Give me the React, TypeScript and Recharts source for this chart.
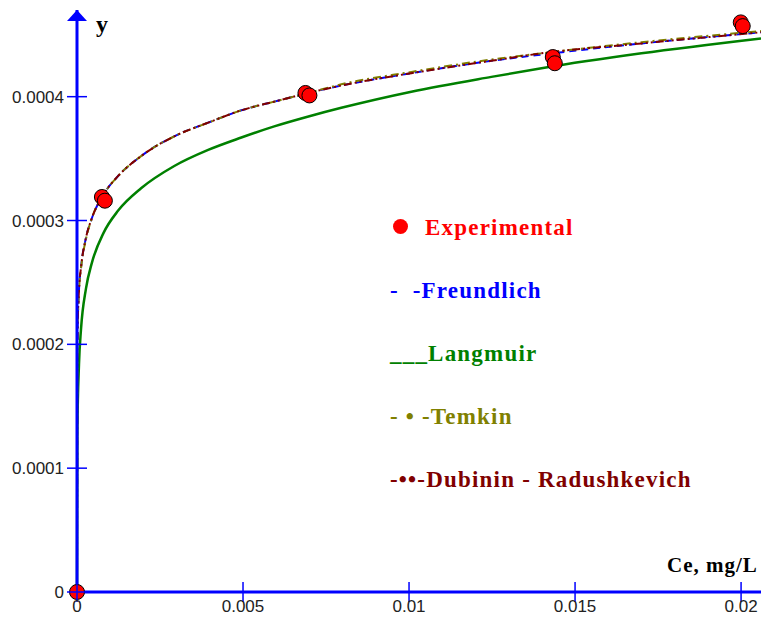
import React from "react";
import {
  ComposedChart,
  Line,
  Scatter,
  XAxis,
  YAxis,
  Legend,
} from "recharts";

// experimental points (Ce, q)
const ceExp = [0, 0.00075, 0.00084, 0.00688, 0.007, 0.01433, 0.01439, 0.01999, 0.02005];
const qExp = [0, 0.000319, 0.000316, 0.000403, 0.000401, 0.000432, 0.000427, 0.00046, 0.000457];

// model curves, sampled at the same Ce values
const ceFit = [
  0, 0.00001, 0.00006, 0.00012, 0.00027, 0.00045, 0.0008, 0.00124, 0.00193, 0.00293,
  0.00395, 0.00495, 0.00594, 0.00697, 0.00796, 0.01007, 0.01248, 0.01399, 0.017, 0.0206,
];
const qFreundlich = [
  0, 0.000202, 0.000244, 0.000262, 0.000286, 0.000302, 0.000321, 0.000336, 0.000352, 0.000368,
  0.000379, 0.000389, 0.000396, 0.000403, 0.000409, 0.000419, 0.000429, 0.000434, 0.000443, 0.000452,
];
const qLangmuir = [
  0, 0.000129, 0.000184, 0.000212, 0.000245, 0.000266, 0.00029, 0.000308, 0.000326, 0.000344,
  0.000357, 0.000367, 0.000376, 0.000384, 0.000391, 0.000404, 0.000416, 0.000423, 0.000435, 0.000447,
];
const qTemkin = [
  0, 0.000199, 0.000243, 0.000261, 0.000285, 0.000302, 0.000321, 0.000336, 0.000352, 0.000368,
  0.000379, 0.000389, 0.000396, 0.000403, 0.00041, 0.00042, 0.00043, 0.000435, 0.000444, 0.000453,
];
const qDubinin = [
  0, 0.000201, 0.000244, 0.000262, 0.000286, 0.000302, 0.000321, 0.000336, 0.000352, 0.000368,
  0.000379, 0.000389, 0.000396, 0.000403, 0.000409, 0.000419, 0.000429, 0.000435, 0.000443, 0.000452,
];

const xTicks = [0, 0.005, 0.01, 0.015, 0.02];
const yTicks = [0, 0.0001, 0.0002, 0.0003, 0.0004];

const legendNames = ["Experimental", "Freundlich", "Langmuir", "Temkin", "Dubinin - Radushkevich"];
const legendMarks = ["", "-  -", "___", "- \u2022 -", "-\u2022\u2022-"];
const legendColors = ["#FF0000", "#0000FF", "#008000", "#808000", "#800000"];

const BLUE = "#0000FF";
const tickFont = "'Liberation Sans', Arial, sans-serif";
const titleFont = "'Liberation Serif', 'Times New Roman', serif";

const toPoints = (xs: number[], ys: number[]) => xs.map((x, i) => ({ x, y: ys[i] }));

const XTick = (props: any) => {
  const { x, y, payload } = props;
  return (
    <g>
      <line x1={x} y1={y - 10} x2={x} y2={y + 10} stroke={BLUE} strokeWidth={1.5} />
      <text x={x} y={y + 20} textAnchor="middle" fontSize={17} fontFamily={tickFont} fill="#222">
        {String(payload.value)}
      </text>
    </g>
  );
};

const YTick = (props: any) => {
  const { x, y, payload } = props;
  return (
    <g>
      <line x1={x - 10} y1={y} x2={x + 10} y2={y} stroke={BLUE} strokeWidth={1.5} />
      <text x={x - 13} y={y + 6} textAnchor="end" fontSize={17} fontFamily={tickFont} fill="#222">
        {String(payload.value)}
      </text>
    </g>
  );
};

const YTitle = (props: any) => {
  const { viewBox } = props;
  const ax = viewBox.x + viewBox.width;
  const top = viewBox.y;
  return (
    <g>
      <polygon points={`${ax - 10},${top + 11} ${ax + 10},${top + 11} ${ax},${top}`} fill={BLUE} />
      <text x={ax + 19} y={top + 22} fontSize={24} fontWeight="bold" fontFamily={titleFont} fill="#000">
        y
      </text>
    </g>
  );
};

const XTitle = (props: any) => {
  const { viewBox } = props;
  return (
    <text
      x={viewBox.x + viewBox.width - 94}
      y={viewBox.y - 20}
      fontSize={21}
      fontWeight="bold"
      fontFamily={titleFont}
      letterSpacing={1}
      fill="#000"
    >
      Ce, mg/L
    </text>
  );
};

const ExpDot = (props: any) => {
  const { cx, cy } = props;
  return <circle cx={cx} cy={cy} r={7.5} fill="#FF0000" stroke="#000" strokeWidth={1} />;
};

const LegendBox = () => (
  <div style={{ fontFamily: titleFont, fontWeight: "bold", fontSize: 23, letterSpacing: 1.2 }}>
    {legendNames.map((name, i) => (
      <div
        key={name}
        style={{ height: 63, lineHeight: "63px", color: legendColors[i], whiteSpace: "pre" }}
      >
        {i === 0 ? (
          <span
            style={{
              display: "inline-block",
              width: 15,
              height: 15,
              borderRadius: "50%",
              background: "#FF0000",
              marginLeft: 3,
              marginRight: 17,
              verticalAlign: "middle",
              position: "relative",
              top: -3,
            }}
          />
        ) : null}
        {legendMarks[i] + name}
      </div>
    ))}
  </div>
);

export default function App() {
  return (
    <div style={{ position: "absolute", left: 0, top: 0, width: 761, height: 618, background: "#fff" }}>
      <ComposedChart width={761} height={618} margin={{ top: 10, right: 0, bottom: 0, left: 0 }}>
        <XAxis
          type="number"
          dataKey="x"
          domain={[0, 0.0206]}
          ticks={xTicks}
          height={26}
          tickSize={0}
          tickMargin={0}
          tickLine={false}
          axisLine={{ stroke: BLUE, strokeWidth: 3 }}
          tick={<XTick />}
          label={<XTitle />}
        />
        <YAxis
          type="number"
          dataKey="y"
          domain={[0, 0.00047]}
          ticks={yTicks}
          width={77}
          tickSize={0}
          tickMargin={0}
          tickLine={false}
          axisLine={{ stroke: BLUE, strokeWidth: 3 }}
          tick={<YTick />}
          label={<YTitle />}
        />
        <Scatter
          name="Experimental"
          data={toPoints(ceExp, qExp)}
          shape={<ExpDot />}
          isAnimationActive={false}
        />
        <Line
          name="Freundlich"
          data={toPoints(ceFit, qFreundlich)}
          dataKey="y"
          type="monotone"
          stroke="#0000FF"
          strokeWidth={2}
          strokeDasharray="7 5"
          dot={false}
          isAnimationActive={false}
        />
        <Line
          name="Langmuir"
          data={toPoints(ceFit, qLangmuir)}
          dataKey="y"
          type="monotone"
          stroke="#008000"
          strokeWidth={2.5}
          dot={false}
          isAnimationActive={false}
        />
        <Line
          name="Temkin"
          data={toPoints(ceFit, qTemkin)}
          dataKey="y"
          type="monotone"
          stroke="#808000"
          strokeWidth={2}
          strokeDasharray="8 4 2 4"
          dot={false}
          isAnimationActive={false}
        />
        <Line
          name="Dubinin - Radushkevich"
          data={toPoints(ceFit, qDubinin)}
          dataKey="y"
          type="monotone"
          stroke="#800000"
          strokeWidth={2}
          strokeDasharray="8 3 2 3 2 3"
          dot={false}
          isAnimationActive={false}
        />
        <Legend
          layout="vertical"
          align="center"
          verticalAlign="middle"
          content={<LegendBox />}
          wrapperStyle={{ position: "absolute", left: 390, top: 196, width: 360 }}
        />
      </ComposedChart>
    </div>
  );
}
